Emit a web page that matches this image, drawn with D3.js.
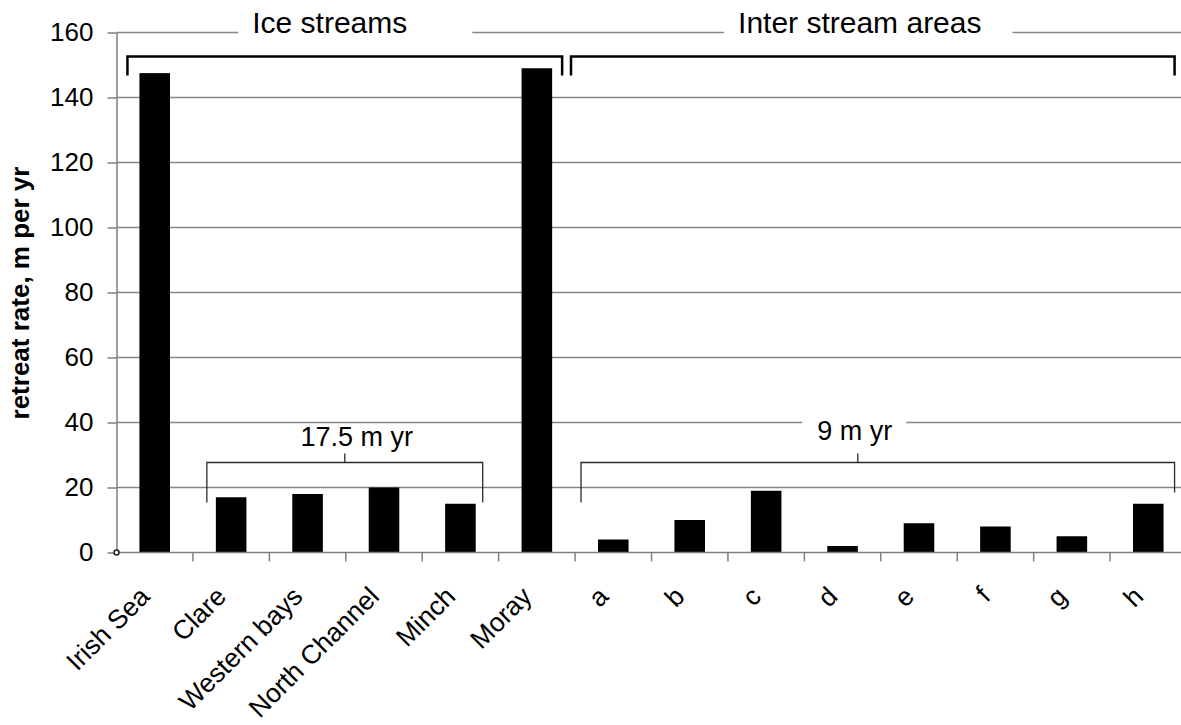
<!DOCTYPE html>
<meta charset="utf-8">
<style>

body {
  margin: 0;
  background: #fff;
}

svg {
  display: block;
  font-family: "Liberation Sans", Arial, sans-serif;
}

.grid line {
  stroke: #868686;
  stroke-width: 1.5px;
}

.axis path,
.axis line {
  stroke: #7f7f7f;
  stroke-width: 1.5px;
}

.axis text {
  fill: #000;
  font-size: 26px;
}

.bar {
  fill: #000;
}

.group-bracket {
  fill: none;
  stroke: #000;
  stroke-width: 2.5px;
}

.mean-bracket {
  fill: none;
  stroke: #2a2a2a;
  stroke-width: 1.3px;
}

</style>
<svg width="1181" height="725"></svg>
<script src="https://d3js.org/d3.v7.min.js"></script>
<script>

// Retreat rates, m per yr
var categories = ["Irish Sea", "Clare", "Western bays", "North Channel", "Minch", "Moray",
                  "a", "b", "c", "d", "e", "f", "g", "h"];
var rates = [147.5, 17, 18, 20, 15, 149, 4, 10, 19, 2, 9, 8, 5, 15];
var yTicks = [0, 20, 40, 60, 80, 100, 120, 140, 160];

// Groups along the top and the averaged runs
var groupNames = ["Ice streams", "Inter stream areas"];
var groupSpans = [["Irish Sea", "Moray"], ["a", "h"]];
var meanSpans = [["Clare", "Minch"], ["a", "h"]];

var svg = d3.select("svg"),
    width = +svg.attr("width"),
    height = +svg.attr("height");

var x0 = 116.5, y0 = 552.5, yTop = 32.5;

var x = d3.scaleBand()
    .domain(categories)
    .range([x0, x0 + 1070])
    .paddingInner(0.6)
    .paddingOuter(0.3);

var y = d3.scaleLinear()
    .domain([0, 160])
    .range([y0, yTop]);

var data = categories.map(function(c, i) { return {name: c, value: rates[i]}; });

// Horizontal gridlines
svg.append("g")
    .attr("class", "grid")
  .selectAll("line")
    .data(yTicks.filter(function(d) { return d > 0; }))
  .enter().append("line")
    .attr("x1", x0)
    .attr("x2", width)
    .attr("y1", function(d) { return y(d); })
    .attr("y2", function(d) { return y(d); });

// White boxes behind the text labels (they cut the gridlines)
var labelLayer = svg.append("g");

// Bars
svg.append("g")
  .selectAll("rect")
    .data(data)
  .enter().append("rect")
    .attr("class", "bar")
    .attr("x", function(d) { return x(d.name); })
    .attr("y", function(d) { return y(d.value); })
    .attr("width", x.bandwidth())
    .attr("height", function(d) { return y0 - y(d.value); });

// Y axis
var yAxis = svg.append("g")
    .attr("class", "axis")
    .attr("transform", "translate(" + x0 + ",0)")
    .call(d3.axisLeft(y).tickValues(yTicks).tickSize(9).tickSizeOuter(0).tickPadding(14));

// X axis: baseline and ticks on category boundaries
var xAxis = svg.append("g").attr("class", "axis");
xAxis.append("line")
    .attr("x1", x0).attr("x2", width)
    .attr("y1", y0).attr("y2", y0);
xAxis.selectAll(".xtick")
    .data(d3.range(1, categories.length))
  .enter().append("line")
    .attr("class", "xtick")
    .attr("x1", function(k) { return x0 + k * x.step(); })
    .attr("x2", function(k) { return x0 + k * x.step(); })
    .attr("y1", y0)
    .attr("y2", y0 + 9);

svg.append("circle")
    .attr("cx", x0).attr("cy", y0).attr("r", 2.5)
    .attr("fill", "#fff").attr("stroke", "#222").attr("stroke-width", 1.5);

// Rotated category labels
svg.append("g")
    .attr("class", "axis")
  .selectAll("text")
    .data(categories)
  .enter().append("text")
    .attr("transform", function(d) {
      return "translate(" + (x(d) + x.bandwidth() / 2 - 10) + "," + (y0 + 39) + ") rotate(-45)";
    })
    .attr("text-anchor", "end")
    .attr("dy", "0.35em")
    .style("font-size", "26.5px")
    .text(function(d) { return d; });

// Y axis title
svg.append("text")
    .attr("transform", "translate(29,293) rotate(-90)")
    .attr("text-anchor", "middle")
    .style("font-size", "26px")
    .style("font-weight", "bold")
    .text("retreat rate, m per yr");

// Group brackets at the top
var groupPad = [[12, 10], [27, 11]];
var groupTextDx = [-15, -13];
var groupGap = [[14, 65], [14, 31]];

groupSpans.forEach(function(s, i) {
  var xa = x(s[0]) - groupPad[i][0],
      xb = x(s[1]) + x.bandwidth() + groupPad[i][1],
      yb = 56.5;
  svg.append("path")
      .attr("class", "group-bracket")
      .attr("d", "M" + xa + "," + (yb + 19) + "V" + yb + "H" + xb + "V" + (yb + 19));

  var t = labelLayer.append("text")
      .attr("x", (xa + xb) / 2 + groupTextDx[i])
      .attr("y", 33)
      .attr("text-anchor", "middle")
      .style("font-size", "30px")
      .text(groupNames[i]);
  var bb = t.node().getBBox();
  labelLayer.insert("rect", "text")
      .attr("x", bb.x - groupGap[i][0])
      .attr("y", 10)
      .attr("width", bb.width + groupGap[i][0] + groupGap[i][1])
      .attr("height", 36)
      .attr("fill", "#fff");
});

// Mean brackets over the smaller bars
var fmt = d3.format(".3~g");
var meanPad = [[9, 7], [17, 11]];
var meanDrop = [[40, 40], [40, 30]];
var meanTick = [0, -20];
var meanText = [[12, 446], [-3, 440]];

meanSpans.forEach(function(s, i) {
  var i0 = categories.indexOf(s[0]),
      i1 = categories.indexOf(s[1]),
      avg = d3.mean(rates.slice(i0, i1 + 1));
  var xa = x(s[0]) - meanPad[i][0],
      xb = x(s[1]) + x.bandwidth() + meanPad[i][1],
      yb = 462.5,
      xm = (xa + xb) / 2 + meanTick[i];
  svg.append("path")
      .attr("class", "mean-bracket")
      .attr("d", "M" + xa + "," + (yb + meanDrop[i][0]) + "V" + yb + "H" + xb + "V" + (yb + meanDrop[i][1]) +
                 "M" + xm + "," + yb + "V" + (yb - 9));

  var t = labelLayer.append("text")
      .attr("x", xm + meanText[i][0])
      .attr("y", meanText[i][1])
      .attr("text-anchor", "middle")
      .style("font-size", "27px")
      .text(fmt(avg) + " m yr");
  var bb = t.node().getBBox();
  labelLayer.insert("rect", "text")
      .attr("x", bb.x - 15)
      .attr("y", bb.y + 2)
      .attr("width", bb.width + 29)
      .attr("height", bb.height - 4)
      .attr("fill", "#fff");
});

</script>
